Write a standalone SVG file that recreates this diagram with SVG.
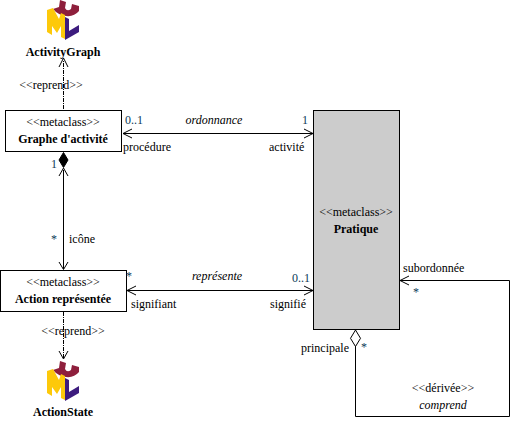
<svg xmlns="http://www.w3.org/2000/svg" width="516" height="424" viewBox="0 0 516 424">
<style>
text{font-family:"Liberation Serif","Times New Roman",serif;font-size:12px;fill:#000}
.m{text-anchor:middle}
.b{font-weight:bold}
.i{font-style:italic}
.c{fill:#0c3a58}
.box{fill:#fff;stroke:#000;stroke-width:1}
.ln{fill:none;stroke:#000;stroke-width:1}
.dot{stroke-dasharray:4 1 1 1}
</style>
<defs>
<g id="uml">
<path d="M13 0L19 2L18 8Q20 12 24 9L25 4L32 6V11Q27 17 19 16Q11 15 6 9L12 7Z" fill="#8e1f3c"/>
<path d="M0 10L6 8L12 19L14 13L18 15V39L14 37V26L10 33L5 26V35L0 32Z" fill="#fdc90a"/>
<path d="M18 17L22 19V31L32 25V32L18 40Z" fill="#3d1c7e"/>
</g>
</defs>
<g id="connectors">
<path class="ln dot" d="M63.500 109V60"/><path class="ln" d="M59 67L63.500 58L68 67"/>
<path class="ln" d="M63.500 170V269M59 176L63.500 168L68 176M59 262L63.500 269.500L68 262"/>
<path class="ln dot" d="M63.500 312V358"/><path class="ln" d="M59 351L63.500 359L68 351"/>
<path class="ln" d="M123 133.500H313M132 129L123 133.500L132 138M304 129L313 133.500L304 138"/>
<path class="ln" d="M127 290.500H313M136 286L127 290.500L136 295M304 286L313 290.500L304 295"/>
<path class="ln" d="M400 280.500H509.500V416.500H355.500V346M409 276L400 280.500L409 285"/>
<path d="M355.500 330L360.500 338.300L355.500 346.500L350.500 338.300Z" fill="#fff" stroke="#000"/>
<path d="M63.500 152.500L68 160L63.500 167.500L59 160Z" fill="#000" stroke="#000"/>
</g>
<g id="activitygraph"><use href="#uml" x="47" y="0"/><text class="m b" x="63" y="56">ActivityGraph</text></g>
<g id="actionstate"><use href="#uml" x="47" y="361"/><text class="m b" x="63" y="416">ActionState</text></g>
<g id="graphe"><rect class="box" x="5.500" y="110.500" width="116" height="41"/><text class="m" x="63" y="126">&lt;&lt;metaclass&gt;&gt;</text><text class="m b" x="63" y="143">Graphe d'activité</text></g>
<g id="action"><rect class="box" x="0.500" y="270.500" width="126" height="41"/><text class="m" x="63" y="286">&lt;&lt;metaclass&gt;&gt;</text><text class="m b" x="63" y="303">Action représentée</text></g>
<g id="pratique"><rect x="313.500" y="110.500" width="86" height="219" fill="#ccc" stroke="#000"/><text class="m" x="356" y="216">&lt;&lt;metaclass&gt;&gt;</text><text class="m b" x="356" y="233">Pratique</text></g>
<g id="labels">
<text class="m" x="51" y="89">&lt;&lt;reprend&gt;&gt;</text>
<text class="m" x="73" y="335">&lt;&lt;reprend&gt;&gt;</text>
<text class="c" x="125" y="124">0..1</text>
<text x="123" y="151">procédure</text>
<text class="m i" x="214" y="124">ordonnance</text>
<text class="c" x="302" y="124">1</text>
<text x="269" y="151">activité</text>
<text class="c" x="51" y="168">1</text>
<text class="c" x="51" y="243">*</text>
<text x="69" y="243">icône</text>
<text class="c" x="126" y="280">*</text>
<text x="131" y="308">signifiant</text>
<text class="m i" x="217" y="280">représente</text>
<text class="c" x="292" y="282">0..1</text>
<text x="270" y="308">signifié</text>
<text x="403" y="272">subordonnée</text>
<text class="c" x="413" y="296">*</text>
<text x="301" y="352">principale</text>
<text class="c" x="361" y="351">*</text>
<text class="m" x="443" y="392">&lt;&lt;dérivée&gt;&gt;</text>
<text class="m i" x="443" y="409">comprend</text>
</g>
</svg>
